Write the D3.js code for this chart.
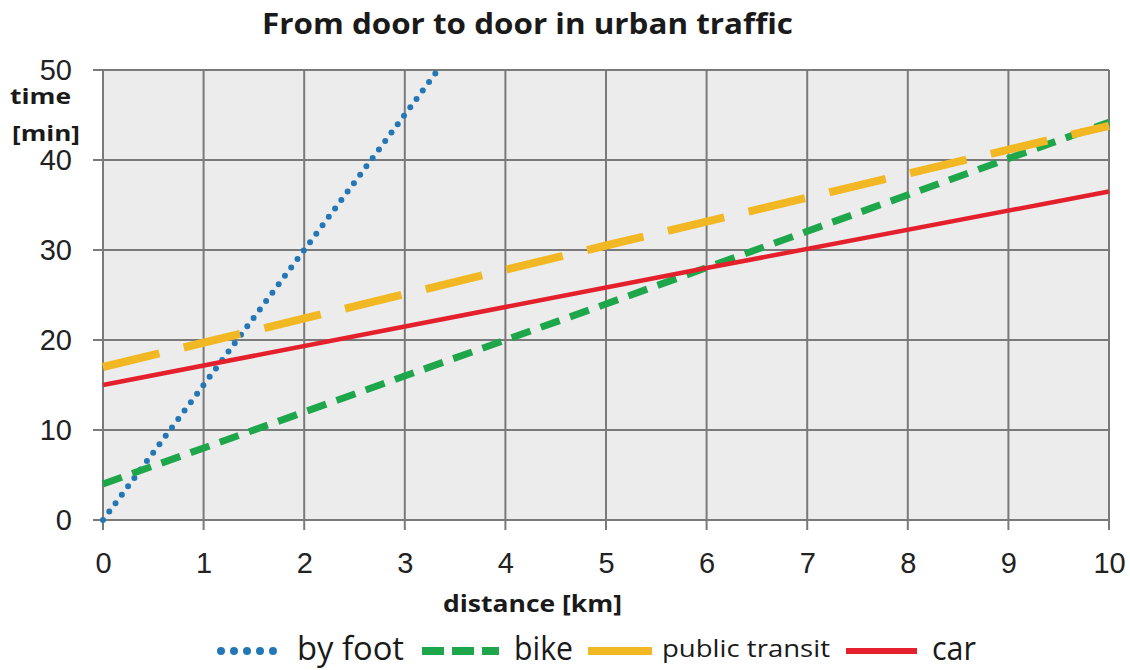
<!DOCTYPE html>
<html>
<head>
<meta charset="utf-8">
<script src="https://cdn.jsdelivr.net/npm/d3@7"></script>
<style>
  body { margin: 0; background: #fff; }
  .tick text { font-family: "Liberation Sans", Arial, sans-serif; fill: #222; }
</style>
</head>
<body>
<div id="chart"></div>
<script>
// distance in km, time in min
var xTicks = [0, 1, 2, 3, 4, 5, 6, 7, 8, 9, 10];
var yTicks = [0, 10, 20, 30, 40, 50];

var footKm = [0, 2, 3.33],      footMin = [0, 30, 50];
var bikeKm = [0, 5, 10],        bikeMin = [4, 24, 44.2];
var transitKm = [0, 5, 10],     transitMin = [17, 30.5, 43.8];
var carKm = [0, 6, 10],         carMin = [15, 28, 36.5];

var seriesNames = ["by foot", "bike", "public transit", "car"];

var series = [
    {name: seriesNames[0], km: footKm, min: footMin, color: "#2477b6", width: 6, dash: "0,10.5", cap: "round"},
    {name: seriesNames[1], km: bikeKm, min: bikeMin, color: "#1ea64a", width: 7, dash: "20,11", cap: "butt"},
    {name: seriesNames[2], km: transitKm, min: transitMin, color: "#f2b824", width: 8, dash: "58,25", cap: "butt"},
    {name: seriesNames[3], km: carKm, min: carMin, color: "#e3202b", width: 4.5, dash: null, cap: "butt"}
];

var W = 1130, H = 670;
var margin = {top: 70, right: 21, bottom: 150, left: 103},
    width = W - margin.left - margin.right,
    height = H - margin.top - margin.bottom;

var x = d3.scaleLinear().domain([0, 10]).range([0, width]);
var y = d3.scaleLinear().domain([0, 50]).range([height, 0]);

var svg = d3.select("#chart").append("svg")
    .attr("width", W)
    .attr("height", H);

var boldFont = "'Open Sans', sans-serif";

// text fitted to the width it has in the original
function label(txt, x0, yb, size, len, bold) {
    return svg.append("text")
        .attr("x", x0).attr("y", yb)
        .attr("textLength", len)
        .attr("lengthAdjust", "spacingAndGlyphs")
        .style("font-family", boldFont)
        .style("font-weight", bold ? "bold" : "normal")
        .style("font-size", size + "px")
        .style("fill", "#1a1a1a")
        .text(txt);
}

label("From door to door in urban traffic", 262, 34, 29, 531, true);

var g = svg.append("g")
    .attr("transform", "translate(" + margin.left + "," + margin.top + ")");

g.append("rect")
    .attr("width", width).attr("height", height)
    .attr("fill", "#ececec");

// grid
g.append("g").selectAll("line").data(xTicks).join("line")
    .attr("x1", d => x(d)).attr("x2", d => x(d))
    .attr("y1", 0).attr("y2", height + 10)
    .attr("stroke", "#7a7a7a").attr("stroke-width", 2);

g.append("g").selectAll("line").data(yTicks).join("line")
    .attr("x1", -10).attr("x2", width)
    .attr("y1", d => y(d)).attr("y2", d => y(d))
    .attr("stroke", "#7a7a7a").attr("stroke-width", 2);

// axes (labels only, grid drawn above)
var xAxis = g.append("g")
    .attr("transform", "translate(0," + height + ")")
    .call(d3.axisBottom(x).tickValues(xTicks).tickSize(0).tickPadding(32));
xAxis.select(".domain").remove();
xAxis.selectAll("text").style("font-size", "29px");

var yAxis = g.append("g")
    .call(d3.axisLeft(y).tickValues(yTicks).tickSize(0).tickPadding(31));
yAxis.select(".domain").remove();
yAxis.selectAll("text").style("font-size", "29px").attr("dy", "0.32em");

// axis titles
label("time", 10, 104, 21, 61, true);
label("[min]", 12, 141, 22, 68, true);
label("distance [km]", 443, 612, 23, 179, true);

// lines
g.append("clipPath").attr("id", "clip")
  .append("rect").attr("x", -5).attr("y", 0).attr("width", width + 10).attr("height", height + 5);

var line = d3.line()
    .x(d => x(d[0]))
    .y(d => y(d[1]));

g.append("g").attr("clip-path", "url(#clip)")
  .selectAll("path").data(series).join("path")
    .attr("d", d => line(d.km.map((k, i) => [k, d.min[i]])))
    .attr("fill", "none")
    .attr("stroke", d => d.color)
    .attr("stroke-width", d => d.width)
    .attr("stroke-dasharray", d => d.dash)
    .attr("stroke-linecap", d => d.cap);

// legend
var legendPos = [
    {x0: 221, x1: 286, tx: 297, len: 107, size: 33},
    {x0: 422, x1: 499, tx: 514, len: 59, size: 33},
    {x0: 588, x1: 652, tx: 662, len: 168, size: 24},
    {x0: 846, x1: 917, tx: 932, len: 44, size: 33}
];
var ly = 651;
var legend = svg.append("g").selectAll("g").data(series).join("g");
legend.append("line")
    .attr("x1", (d, i) => legendPos[i].x0).attr("x2", (d, i) => legendPos[i].x1)
    .attr("y1", ly).attr("y2", ly)
    .attr("stroke", d => d.color)
    .attr("stroke-width", (d, i) => i == 3 ? 6 : 8)
    .attr("stroke-dasharray", (d, i) => i == 0 ? "0,13" : i == 1 ? "22,8" : null)
    .attr("stroke-linecap", d => d.cap);
legend.append("text")
    .attr("x", (d, i) => legendPos[i].tx)
    .attr("y", (d, i) => i == 2 ? 657 : 660)
    .attr("textLength", (d, i) => legendPos[i].len)
    .attr("lengthAdjust", "spacingAndGlyphs")
    .style("font-family", "'Open Sans', sans-serif")
    .style("font-size", (d, i) => legendPos[i].size + "px")
    .style("fill", "#1a1a1a")
    .text(d => d.name);
</script>
</body>
</html>
